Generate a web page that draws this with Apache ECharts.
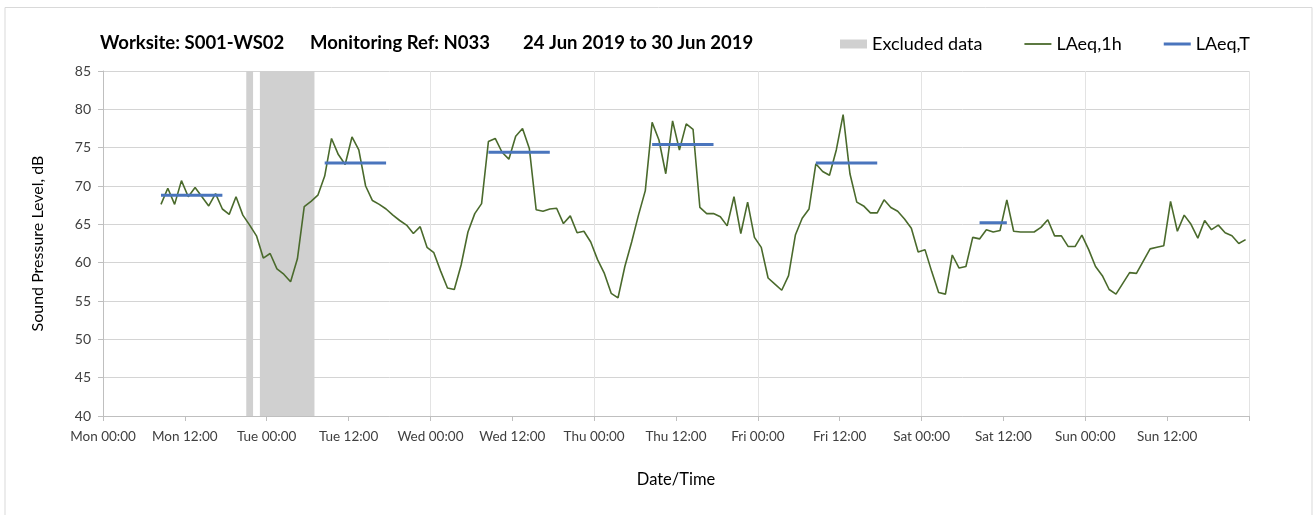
<!DOCTYPE html>
<html>
<head>
<meta charset="utf-8">
<script src="https://cdn.jsdelivr.net/npm/echarts@6/dist/echarts.min.js"></script>
<style>
html,body{margin:0;padding:0;background:#fff;}
#chart{width:1314px;height:515px;}
</style>
</head>
<body>
<div id="chart"></div>
<script>
// ---- data ----
var titleParts = ['Worksite: S001-WS02', 'Monitoring Ref: N033', '24 Jun 2019 to 30 Jun 2019'];
var dayNames = ['Mon', 'Tue', 'Wed', 'Thu', 'Fri', 'Sat', 'Sun'];
var firstHour = 8.5; // Mon 08:00-09:00 plotted at mid-hour
var laeq1h = [
  67.6, 69.7, 67.6, 70.7, 68.6, 69.8, 68.6, 67.4, 69.0, 67.0,
  66.3, 68.6, 66.2, 64.9, 63.5, 60.6, 61.2, 59.2, 58.5, 57.5,
  60.5, 67.3, 68.0, 68.8, 71.3, 76.2, 74.1, 72.8, 76.4, 74.7,
  70.0, 68.1, 67.6, 67.0, 66.2, 65.5, 64.9, 63.8, 64.7, 62.0,
  61.3, 58.9, 56.7, 56.5, 59.7, 64.0, 66.4, 67.7, 75.8, 76.2,
  74.4, 73.5, 76.5, 77.5, 74.9, 66.9, 66.7, 67.0, 67.1, 65.1,
  66.1, 63.9, 64.1, 62.7, 60.4, 58.6, 56.0, 55.4, 59.5, 62.7,
  66.2, 69.4, 78.3, 76.0, 71.6, 78.5, 74.7, 78.1, 77.4, 67.2,
  66.4, 66.4, 66.0, 64.8, 68.6, 63.8, 67.9, 63.3, 62.0, 58.0,
  57.2, 56.4, 58.3, 63.6, 65.8, 67.0, 72.9, 71.9, 71.4, 74.7,
  79.3, 71.6, 67.9, 67.4, 66.5, 66.5, 68.2, 67.2, 66.7, 65.7,
  64.5, 61.4, 61.7, 58.8, 56.1, 55.9, 61.0, 59.3, 59.5, 63.3,
  63.1, 64.3, 64.0, 64.2, 68.2, 64.1, 64.0, 64.0, 64.0, 64.6,
  65.6, 63.5, 63.5, 62.1, 62.1, 63.6, 61.7, 59.5, 58.3, 56.5,
  55.9, 57.3, 58.7, 58.6, 60.2, 61.8, 62.0, 62.2, 68.0, 64.1,
  66.2, 65.0, 63.2, 65.5, 64.3, 64.9, 63.9, 63.5, 62.5, 63.0
];
var periodStart = [8.5, 32.5, 56.5, 80.5, 104.5, 128.5];
var periodEnd   = [17.5, 41.5, 65.5, 89.5, 113.5, 132.5];
var laeqT       = [68.8, 73.0, 74.4, 75.4, 73.0, 65.2];
var excludedStart = [21, 23];
var excludedEnd   = [22, 31];

// ---- build series data ----
var lineData = laeq1h.map(function (v, i) { return [firstHour + i, v]; });
var tData = [];
for (var k = 0; k < laeqT.length; k++) {
  tData.push([periodStart[k], laeqT[k]]);
  tData.push([periodEnd[k], laeqT[k]]);
  tData.push([periodEnd[k] + 0.5, '-']);
}
var excludedAreas = excludedStart.map(function (s, i) {
  return [{ xAxis: s }, { xAxis: excludedEnd[i] }];
});

var FONT = 'Lato';
var GREEN = '#4a6a2c';
var BLUE = '#4a75bd';
var chart = echarts.init(document.getElementById('chart'), null, { renderer: 'canvas' });
var titleStyle = { fontFamily: FONT, fontSize: 18.5, fontWeight: 'bold', color: '#000' };
var option = {
  animation: false,
  backgroundColor: '#fff',
  textStyle: { fontFamily: FONT },
  graphic: [{
    type: 'rect', left: 4.5, top: 7, z: -10,
    shape: { width: 1307, height: 520 },
    style: { fill: '#fff', stroke: '#d9d9d9', lineWidth: 1 }
  }],
  title: [
    { text: titleParts[0], left: 95, top: 29, textStyle: titleStyle },
    { text: titleParts[1], left: 305, top: 29, textStyle: titleStyle },
    { text: titleParts[2], left: 518, top: 29, textStyle: titleStyle }
  ],
  legend: {
    left: 835, top: 30,
    itemWidth: 27, itemHeight: 9, itemGap: 42,
    symbolKeepAspect: true,
    textStyle: { fontFamily: FONT, fontSize: 18, color: '#000' },
    data: [
      { name: 'Excluded data', icon: 'rect', itemStyle: { color: '#d0d0d0' } },
      { name: 'LAeq,1h', icon: 'path://M0,0 L27,0 L27,1.8 L0,1.8 Z', itemStyle: { color: GREEN } },
      { name: 'LAeq,T', icon: 'path://M0,0 L27,0 L27,3 L0,3 Z', itemStyle: { color: BLUE } }
    ]
  },
  grid: { left: 103, right: 65, top: 71, bottom: 99, containLabel: false },
  xAxis: [{
    type: 'value', min: 0, max: 168, interval: 12,
    name: 'Date/Time', nameLocation: 'middle', nameGap: 55,
    nameTextStyle: { fontFamily: FONT, fontSize: 16.5, color: '#000' },
    axisLine: { show: true, lineStyle: { color: '#bfbfbf', width: 1 } },
    axisTick: { show: true, length: 5, lineStyle: { color: '#bfbfbf' } },
    axisLabel: {
      margin: 14, fontSize: 13.5, color: '#404040', fontFamily: FONT,
      formatter: function (v) {
        if (v >= 168) return '';
        var d = Math.floor(v / 24);
        var h = v % 24;
        return dayNames[d] + ' ' + (h < 10 ? '0' + h : h) + ':00';
      }
    },
    splitLine: { show: false }
  }, {
    type: 'value', min: 0, max: 168, interval: 24, position: 'bottom',
    axisLine: { show: false }, axisTick: { show: false }, axisLabel: { show: false },
    splitLine: { show: true, lineStyle: { color: '#e3e3e3', width: 1 } }
  }],
  yAxis: {
    type: 'value', min: 40, max: 85, interval: 5,
    name: 'Sound Pressure Level, dB', nameLocation: 'middle', nameGap: 57,
    nameTextStyle: { fontFamily: FONT, fontSize: 16, color: '#000' },
    axisLine: { show: true, lineStyle: { color: '#bfbfbf', width: 1 } },
    axisTick: { show: true, length: 5, inside: false, lineStyle: { color: '#bfbfbf' } },
    axisLabel: { margin: 12, fontSize: 14, color: '#404040', fontFamily: FONT },
    splitLine: { show: true, lineStyle: { color: '#d4d4d4', width: 1 } }
  },
  series: [
    {
      name: 'Excluded data', type: 'line', data: [], symbol: 'none',
      itemStyle: { color: '#d0d0d0' },
      markArea: {
        silent: true,
        itemStyle: { color: '#d0d0d0', opacity: 1 },
        data: excludedAreas
      },
      z: 1
    },
    {
      name: 'LAeq,1h', type: 'line', data: lineData, symbol: 'none', showSymbol: false,
      itemStyle: { color: GREEN },
      lineStyle: { color: GREEN, width: 1.6 },
      z: 3
    },
    {
      name: 'LAeq,T', type: 'line', data: tData, symbol: 'none', showSymbol: false, connectNulls: false,
      itemStyle: { color: BLUE },
      lineStyle: { color: BLUE, width: 3, cap: 'butt' },
      z: 4
    }
  ]
};
chart.setOption(option);
</script>
</body>
</html>
